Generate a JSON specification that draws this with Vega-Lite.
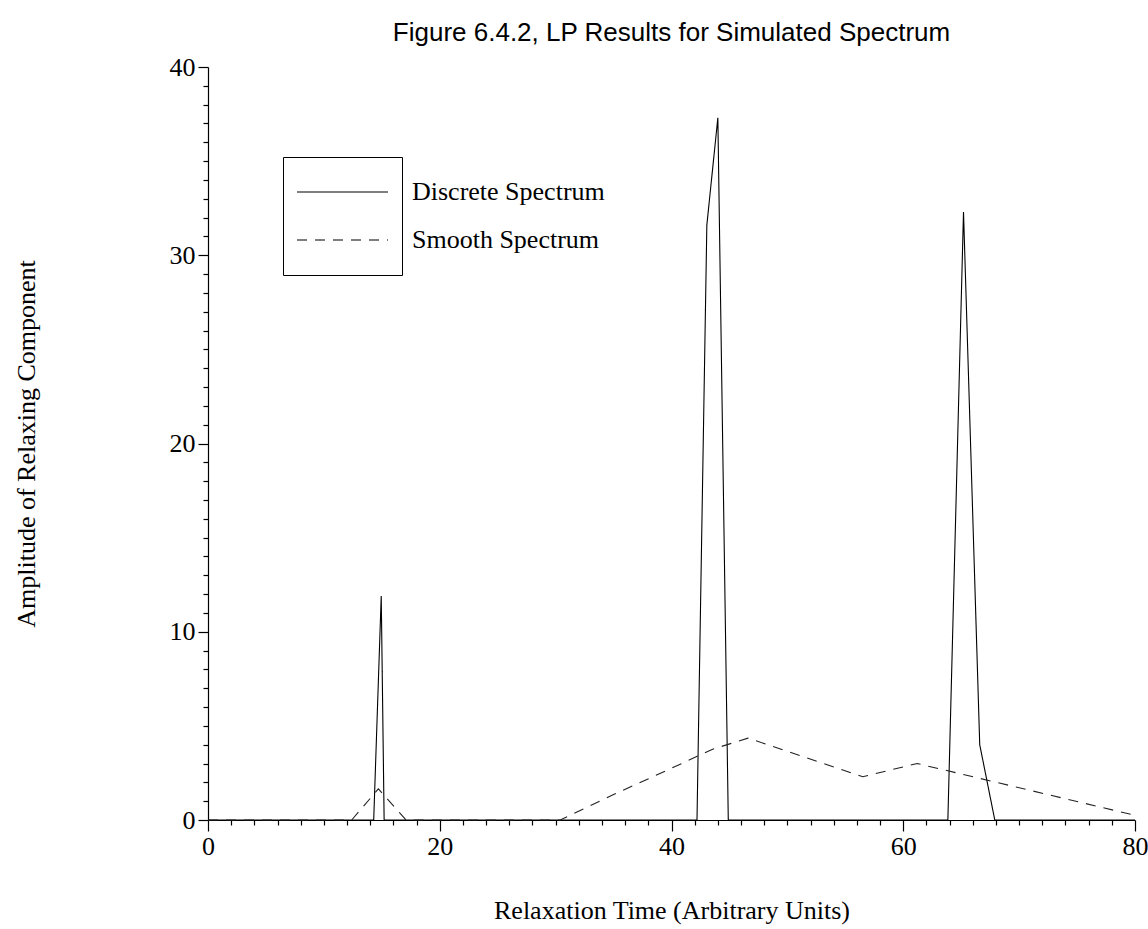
{
  "$schema": "https://vega.github.io/schema/vega-lite/v6.json",
  "width": 927,
  "height": 753,
  "autosize": {"type": "none"},
  "padding": {"left": 208, "top": 67, "right": 13, "bottom": 109},
  "background": "white",
  "config": {"view": {"stroke": null}, "font": "Liberation Serif"},
  "title": {
    "text": "Figure 6.4.2, LP Results for Simulated Spectrum",
    "font": "Liberation Sans",
    "fontSize": 26,
    "fontWeight": "normal",
    "color": "black",
    "anchor": "middle",
    "offset": 8
  },
  "data": {
    "values": [
      {"t": 0, "amp": 0, "series": "Discrete Spectrum", "name": "Discrete Spectrum"},
      {"t": 14.3, "amp": 0, "series": "Discrete Spectrum", "name": "Discrete Spectrum"},
      {"t": 14.95, "amp": 11.9, "series": "Discrete Spectrum", "name": "Discrete Spectrum"},
      {"t": 15.2, "amp": 0, "series": "Discrete Spectrum", "name": "Discrete Spectrum"},
      {"t": 42.2, "amp": 0, "series": "Discrete Spectrum", "name": "Discrete Spectrum"},
      {"t": 43.05, "amp": 31.6, "series": "Discrete Spectrum", "name": "Discrete Spectrum"},
      {"t": 44.0, "amp": 37.3, "series": "Discrete Spectrum", "name": "Discrete Spectrum"},
      {"t": 44.9, "amp": 0, "series": "Discrete Spectrum", "name": "Discrete Spectrum"},
      {"t": 63.85, "amp": 0, "series": "Discrete Spectrum", "name": "Discrete Spectrum"},
      {"t": 65.2, "amp": 32.3, "series": "Discrete Spectrum", "name": "Discrete Spectrum"},
      {"t": 66.6, "amp": 4.0, "series": "Discrete Spectrum", "name": "Discrete Spectrum"},
      {"t": 67.9, "amp": 0, "series": "Discrete Spectrum", "name": "Discrete Spectrum"},
      {"t": 80, "amp": 0, "series": "Discrete Spectrum", "name": "Discrete Spectrum"},
      {"t": 0, "amp": 0, "series": "Smooth Spectrum", "name": "Smooth Spectrum"},
      {"t": 12.4, "amp": 0, "series": "Smooth Spectrum", "name": "Smooth Spectrum"},
      {"t": 14.7, "amp": 1.65, "series": "Smooth Spectrum", "name": "Smooth Spectrum"},
      {"t": 17.1, "amp": 0, "series": "Smooth Spectrum", "name": "Smooth Spectrum"},
      {"t": 30.4, "amp": 0, "series": "Smooth Spectrum", "name": "Smooth Spectrum"},
      {"t": 35, "amp": 1.35, "series": "Smooth Spectrum", "name": "Smooth Spectrum"},
      {"t": 40, "amp": 2.75, "series": "Smooth Spectrum", "name": "Smooth Spectrum"},
      {"t": 43.5, "amp": 3.75, "series": "Smooth Spectrum", "name": "Smooth Spectrum"},
      {"t": 46.6, "amp": 4.35, "series": "Smooth Spectrum", "name": "Smooth Spectrum"},
      {"t": 56.5, "amp": 2.3, "series": "Smooth Spectrum", "name": "Smooth Spectrum"},
      {"t": 61.2, "amp": 3.0, "series": "Smooth Spectrum", "name": "Smooth Spectrum"},
      {"t": 80, "amp": 0.25, "series": "Smooth Spectrum", "name": "Smooth Spectrum"}
    ]
  },
  "mark": {"type": "line", "strokeWidth": 1.1},
  "encoding": {
    "x": {
      "field": "t",
      "type": "quantitative",
      "scale": {"domain": [0, 80], "nice": false, "zero": false},
      "axis": {
        "values": [0,2,4,6,8,10,12,14,16,18,20,22,24,26,28,30,32,34,36,38,40,42,44,46,48,50,52,54,56,58,60,62,64,66,68,70,72,74,76,78,80],
        "title": "Relaxation Time (Arbitrary Units)",
        "titleFont": "Liberation Serif",
        "titleFontSize": 26,
        "titleFontWeight": "normal",
        "titleColor": "black",
        "titlePadding": 38,
        "labelFont": "Liberation Serif",
        "labelFontSize": 26,
        "labelColor": "black",
        "labelExpr": "datum.value % 20 === 0 ? datum.label : ''",
        "labelOverlap": false,
        "labelFlush": false,
        "labelPadding": 2,
        "tickSize": {"condition": {"test": "datum.value % 20 === 0", "value": 11}, "value": 5},
        "tickColor": "black",
        "tickWidth": 1.2,
        "domainColor": "black",
        "domainWidth": 1.2,
        "grid": false
      }
    },
    "y": {
      "field": "amp",
      "type": "quantitative",
      "scale": {"domain": [0, 40], "nice": false, "zero": false},
      "axis": {
        "values": [0,1,2,3,4,5,6,7,8,9,10,11,12,13,14,15,16,17,18,19,20,21,22,23,24,25,26,27,28,29,30,31,32,33,34,35,36,37,38,39,40],
        "title": "Amplitude of Relaxing Component",
        "titleFont": "Liberation Serif",
        "titleFontSize": 26,
        "titleFontWeight": "normal",
        "titleColor": "black",
        "titlePadding": 130,
        "labelFont": "Liberation Serif",
        "labelFontSize": 26,
        "labelColor": "black",
        "labelExpr": "datum.value % 10 === 0 ? datum.label : ''",
        "labelOverlap": false,
        "labelFlush": false,
        "labelPadding": 3,
        "tickSize": {"condition": {"test": "datum.value % 10 === 0", "value": 10}, "value": 5},
        "tickColor": "black",
        "tickWidth": 1.2,
        "domainColor": "black",
        "domainWidth": 1.2,
        "grid": false
      }
    },
    "strokeDash": {
      "field": "series",
      "type": "nominal",
      "scale": {"domain": ["Discrete Spectrum", "Smooth Spectrum"], "range": [[1, 0], [10, 8]]},
      "legend": {
        "orient": "none",
        "legendX": 75,
        "legendY": 90,
        "title": null,
        "symbolType": "stroke",
        "symbolSize": 8281,
        "symbolStrokeWidth": 1.2,
        "symbolStrokeColor": "black",
        "clipHeight": 44,
        "rowPadding": 4,
        "padding": 13,
        "strokeColor": "black",
        "labelExpr": "''",
        "labelOffset": 0,
        "labelFontSize": 26
      }
    },
    "color": {
      "field": "name",
      "type": "nominal",
      "scale": {"range": ["black", "#222222"]},
      "legend": {
        "orient": "none",
        "legendX": 75,
        "legendY": 90,
        "title": null,
        "symbolType": "stroke",
        "symbolSize": 8281,
        "symbolOpacity": 0,
        "clipHeight": 44,
        "rowPadding": 4,
        "padding": 13,
        "labelOffset": 23,
        "labelLimit": 500,
        "labelFont": "Liberation Serif",
        "labelFontSize": 26,
        "labelColor": "black"
      }
    }
  }
}
